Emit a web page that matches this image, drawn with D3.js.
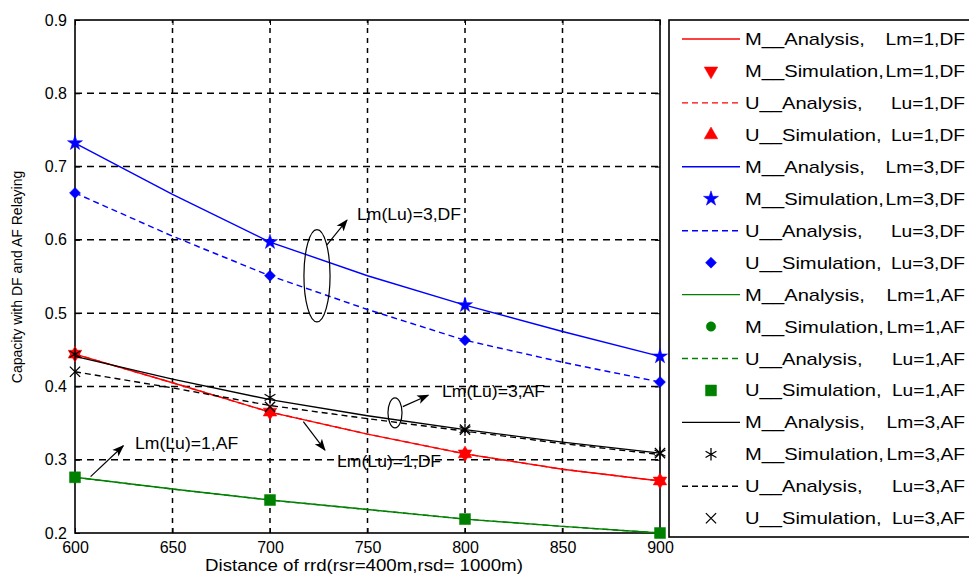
<!DOCTYPE html>
<html>
<head>
<meta charset="utf-8">
<script src="https://cdn.jsdelivr.net/npm/d3@7"></script>
<style>
body { margin: 0; background: #fff; }
text { font-family: "Liberation Sans", Arial, sans-serif; fill: #000; }
</style>
</head>
<body>
<div id="chart"></div>
<script>
// axis ticks
var xTicks = [600, 650, 700, 750, 800, 850, 900];
var yTicks = [0.2, 0.3, 0.4, 0.5, 0.6, 0.7, 0.8, 0.9];

// distances for analysis curves and simulation points
var distAna = [600, 650, 700, 750, 800, 850, 900];
var distSim = [600, 700, 800, 900];

// DF, L=1 (red)
var mAnaDF1 = [0.444, 0.405, 0.365, 0.335, 0.308, 0.287, 0.271];
var mSimDF1 = [0.444, 0.365, 0.308, 0.271];
var uAnaDF1 = [0.444, 0.405, 0.365, 0.335, 0.308, 0.287, 0.271];
var uSimDF1 = [0.444, 0.365, 0.308, 0.271];
// DF, L=3 (blue)
var mAnaDF3 = [0.732, 0.662, 0.597, 0.551, 0.511, 0.475, 0.441];
var mSimDF3 = [0.732, 0.597, 0.511, 0.441];
var uAnaDF3 = [0.664, 0.605, 0.551, 0.505, 0.463, 0.433, 0.406];
var uSimDF3 = [0.664, 0.551, 0.463, 0.406];
// AF, L=1 (green)
var mAnaAF1 = [0.276, 0.260, 0.245, 0.232, 0.219, 0.209, 0.200];
var mSimAF1 = [0.276, 0.245, 0.219, 0.200];
var uAnaAF1 = [0.276, 0.260, 0.245, 0.232, 0.219, 0.209, 0.200];
var uSimAF1 = [0.276, 0.245, 0.219, 0.200];
// AF, L=3 (black)
var mAnaAF3 = [0.441, 0.410, 0.382, 0.360, 0.341, 0.324, 0.309];
var mSimAF3 = [0.444, 0.385, 0.341, 0.309];
var uAnaAF3 = [0.420, 0.398, 0.374, 0.356, 0.339, 0.322, 0.307];
var uSimAF3 = [0.420, 0.372, 0.341, 0.309];

// legend text: name part and parameter part
var legendNames = ["M__Analysis,", "M__Simulation,", "U__Analysis,", "U__Simulation,",
                   "M__Analysis,", "M__Simulation,", "U__Analysis,", "U__Simulation,",
                   "M__Analysis,", "M__Simulation,", "U__Analysis,", "U__Simulation,",
                   "M__Analysis,", "M__Simulation,", "U__Analysis,", "U__Simulation,"];
var legendParams = ["Lm=1,DF", "Lm=1,DF", "Lu=1,DF", "Lu=1,DF",
                    "Lm=3,DF", "Lm=3,DF", "Lu=3,DF", "Lu=3,DF",
                    "Lm=1,AF", "Lm=1,AF", "Lu=1,AF", "Lu=1,AF",
                    "Lm=3,AF", "Lm=3,AF", "Lu=3,AF", "Lu=3,AF"];

// annotations (data coordinates)
var annoTexts = ["Lm(Lu)=3,DF", "Lm(Lu)=3,AF", "Lm(Lu)=1,DF", "Lm(Lu)=1,AF"];
var annoTextAt = [[744.6, 0.627], [788.2, 0.386], [734.4, 0.290], [630.8, 0.315]];
var annoArrows = [[729.2, 0.593, 739.5, 0.627], [768.1, 0.3725, 781.2, 0.388],
                  [717.1, 0.352, 728.2, 0.313], [608.0, 0.277, 624.8, 0.319]];
var annoEllipses = [[724.1, 0.551, 6.7, 0.063], [764.1, 0.364, 3.6, 0.0205]];

var series = [
    {kind: "line", data: mAnaDF1, color: "#ff0000", dash: null},
    {kind: "mark", data: mSimDF1, color: "#ff0000", sym: d3.symbolTriangle, size: 80, rot: 180, fill: true},
    {kind: "line", data: uAnaDF1, color: "#ff0000", dash: "6,4"},
    {kind: "mark", data: uSimDF1, color: "#ff0000", sym: d3.symbolTriangle, size: 80, rot: 0, fill: true},
    {kind: "line", data: mAnaDF3, color: "#0000ff", dash: null},
    {kind: "mark", data: mSimDF3, color: "#0000ff", sym: d3.symbolStar, size: 70, rot: 0, fill: true},
    {kind: "line", data: uAnaDF3, color: "#0000ff", dash: "6,4"},
    {kind: "mark", data: uSimDF3, color: "#0000ff", sym: d3.symbolSquare, size: 60, rot: 45, fill: true},
    {kind: "line", data: mAnaAF1, color: "#008000", dash: null},
    {kind: "mark", data: mSimAF1, color: "#008000", sym: d3.symbolCircle, size: 70, rot: 0, fill: true},
    {kind: "line", data: uAnaAF1, color: "#008000", dash: "6,4"},
    {kind: "mark", data: uSimAF1, color: "#008000", sym: d3.symbolSquare, size: 120, rot: 0, fill: true},
    {kind: "line", data: mAnaAF3, color: "#000000", dash: null},
    {kind: "mark", data: mSimAF3, color: "#000000", sym: d3.symbolAsterisk, size: 110, rot: 0, fill: false},
    {kind: "line", data: uAnaAF3, color: "#000000", dash: "6,4"},
    {kind: "mark", data: uSimAF3, color: "#000000", sym: d3.symbolTimes, size: 70, rot: 0, fill: false}
];

var svg = d3.select("#chart").append("svg")
    .attr("width", 969)
    .attr("height", 574);

var x = d3.scaleLinear().domain([600, 900]).range([75, 660]);
var y = d3.scaleLinear().domain([0.2, 0.9]).range([533, 20]);

// arrow head
svg.append("defs").append("marker")
    .attr("id", "arr")
    .attr("markerUnits", "userSpaceOnUse")
    .attr("viewBox", "0 -5 12 10")
    .attr("refX", 11).attr("refY", 0)
    .attr("markerWidth", 12).attr("markerHeight", 10)
    .attr("orient", "auto")
  .append("path")
    .attr("d", "M0,-4.5L12,0L0,4.5L3,0Z")
    .attr("fill", "#000");

// grid
svg.selectAll(".vgrid").data(xTicks.slice(1, -1)).enter().append("line")
    .attr("x1", function(d) { return x(d); }).attr("x2", function(d) { return x(d); })
    .attr("y1", y(0.2)).attr("y2", y(0.9))
    .attr("stroke", "#000").attr("stroke-width", 1.5).attr("stroke-dasharray", "5,5");
svg.selectAll(".hgrid").data(yTicks.slice(1, -1)).enter().append("line")
    .attr("x1", x(600)).attr("x2", x(900))
    .attr("y1", function(d) { return y(d); }).attr("y2", function(d) { return y(d); })
    .attr("stroke", "#000").attr("stroke-width", 1.5).attr("stroke-dasharray", "7,5");

// axes (MATLAB style inward ticks)
function styleAxis(g) {
    g.select(".domain").remove();
    g.selectAll("text").attr("font-size", 16).attr("font-family", "Liberation Sans, Arial, sans-serif").attr("fill", "#000");
    g.selectAll("line").attr("stroke", "#000");
}
svg.append("g").attr("transform", "translate(75,0)")
    .call(d3.axisLeft(y).tickValues(yTicks).tickSize(-5).tickPadding(8).tickFormat(d3.format(".1f")))
    .call(styleAxis);
svg.append("g").attr("transform", "translate(0,533)")
    .call(d3.axisBottom(x).tickValues(xTicks).tickSize(-5).tickPadding(9).tickFormat(d3.format("d")))
    .call(styleAxis);
svg.append("g").attr("transform", "translate(660,0)")
    .call(d3.axisRight(y).tickValues(yTicks).tickSize(-5).tickFormat(""))
    .call(styleAxis);
svg.append("g").attr("transform", "translate(0,20)")
    .call(d3.axisTop(x).tickValues(xTicks).tickSize(-5).tickFormat(""))
    .call(styleAxis);

// plot box
svg.append("rect")
    .attr("x", x(600)).attr("y", y(0.9))
    .attr("width", x(900) - x(600)).attr("height", y(0.2) - y(0.9))
    .attr("fill", "none").attr("stroke", "#000").attr("stroke-width", 1.6);

// series
var line = d3.line()
    .x(function(d) { return x(d[0]); })
    .y(function(d) { return y(d[1]); });

series.forEach(function(s) {
    if (s.kind === "line") {
        svg.append("path")
            .datum(d3.zip(distAna, s.data))
            .attr("d", line)
            .attr("fill", "none")
            .attr("stroke", s.color)
            .attr("stroke-width", 1.4)
            .attr("stroke-dasharray", s.dash);
    } else {
        svg.selectAll(null).data(d3.zip(distSim, s.data)).enter().append("path")
            .attr("d", d3.symbol().type(s.sym).size(s.size))
            .attr("transform", function(d) {
                return "translate(" + x(d[0]) + "," + y(d[1]) + ") rotate(" + s.rot + ")";
            })
            .attr("fill", s.fill ? s.color : "none")
            .attr("stroke", s.color)
            .attr("stroke-width", s.fill ? 0.5 : 1.3);
    }
});

// annotations
annoEllipses.forEach(function(e) {
    svg.append("ellipse")
        .attr("cx", x(e[0])).attr("cy", y(e[1]))
        .attr("rx", x(e[0] + e[2]) - x(e[0]))
        .attr("ry", y(e[1] - e[3]) - y(e[1]))
        .attr("fill", "none").attr("stroke", "#000").attr("stroke-width", 1.2);
});
annoArrows.forEach(function(a) {
    svg.append("line")
        .attr("x1", x(a[0])).attr("y1", y(a[1]))
        .attr("x2", x(a[2])).attr("y2", y(a[3]))
        .attr("stroke", "#000").attr("stroke-width", 1.2)
        .attr("marker-end", "url(#arr)");
});
annoTexts.forEach(function(t, i) {
    svg.append("text")
        .attr("transform", "translate(" + x(annoTextAt[i][0]) + "," + y(annoTextAt[i][1]) + ") scale(1.1,1)")
        .attr("font-size", 16)
        .text(t);
});

// axis labels
svg.append("text")
    .attr("transform", "translate(364,571) scale(1.1,1)")
    .attr("text-anchor", "middle")
    .attr("font-size", 17)
    .text("Distance of rrd(rsr=400m,rsd= 1000m)");
svg.append("text")
    .attr("transform", "translate(22,277) rotate(-90)")
    .attr("text-anchor", "middle")
    .attr("font-size", 14)
    .text("Capacity with DF and AF Relaying");

// legend
var leg = svg.append("g");
leg.append("rect")
    .attr("x", 669).attr("y", 20)
    .attr("width", 320).attr("height", 517)
    .attr("fill", "#fff").attr("stroke", "#000").attr("stroke-width", 1.6);

series.forEach(function(s, i) {
    var ly = 39 + i * 31.95;
    if (s.kind === "line") {
        leg.append("line")
            .attr("x1", 682).attr("x2", 740).attr("y1", ly).attr("y2", ly)
            .attr("stroke", s.color).attr("stroke-width", 1.4)
            .attr("stroke-dasharray", s.dash);
    } else {
        leg.append("path")
            .attr("d", d3.symbol().type(s.sym).size(s.size))
            .attr("transform", "translate(711," + ly + ") rotate(" + s.rot + ")")
            .attr("fill", s.fill ? s.color : "none")
            .attr("stroke", s.color)
            .attr("stroke-width", s.fill ? 0.5 : 1.3);
    }
    leg.append("text")
        .attr("transform", "translate(745," + (ly + 6) + ") scale(1.26,1)")
        .attr("font-size", 16)
        .text(legendNames[i]);
    leg.append("text")
        .attr("transform", "translate(965," + (ly + 6) + ") scale(1.2,1)")
        .attr("text-anchor", "end")
        .attr("font-size", 16)
        .text(legendParams[i]);
});
</script>
</body>
</html>
